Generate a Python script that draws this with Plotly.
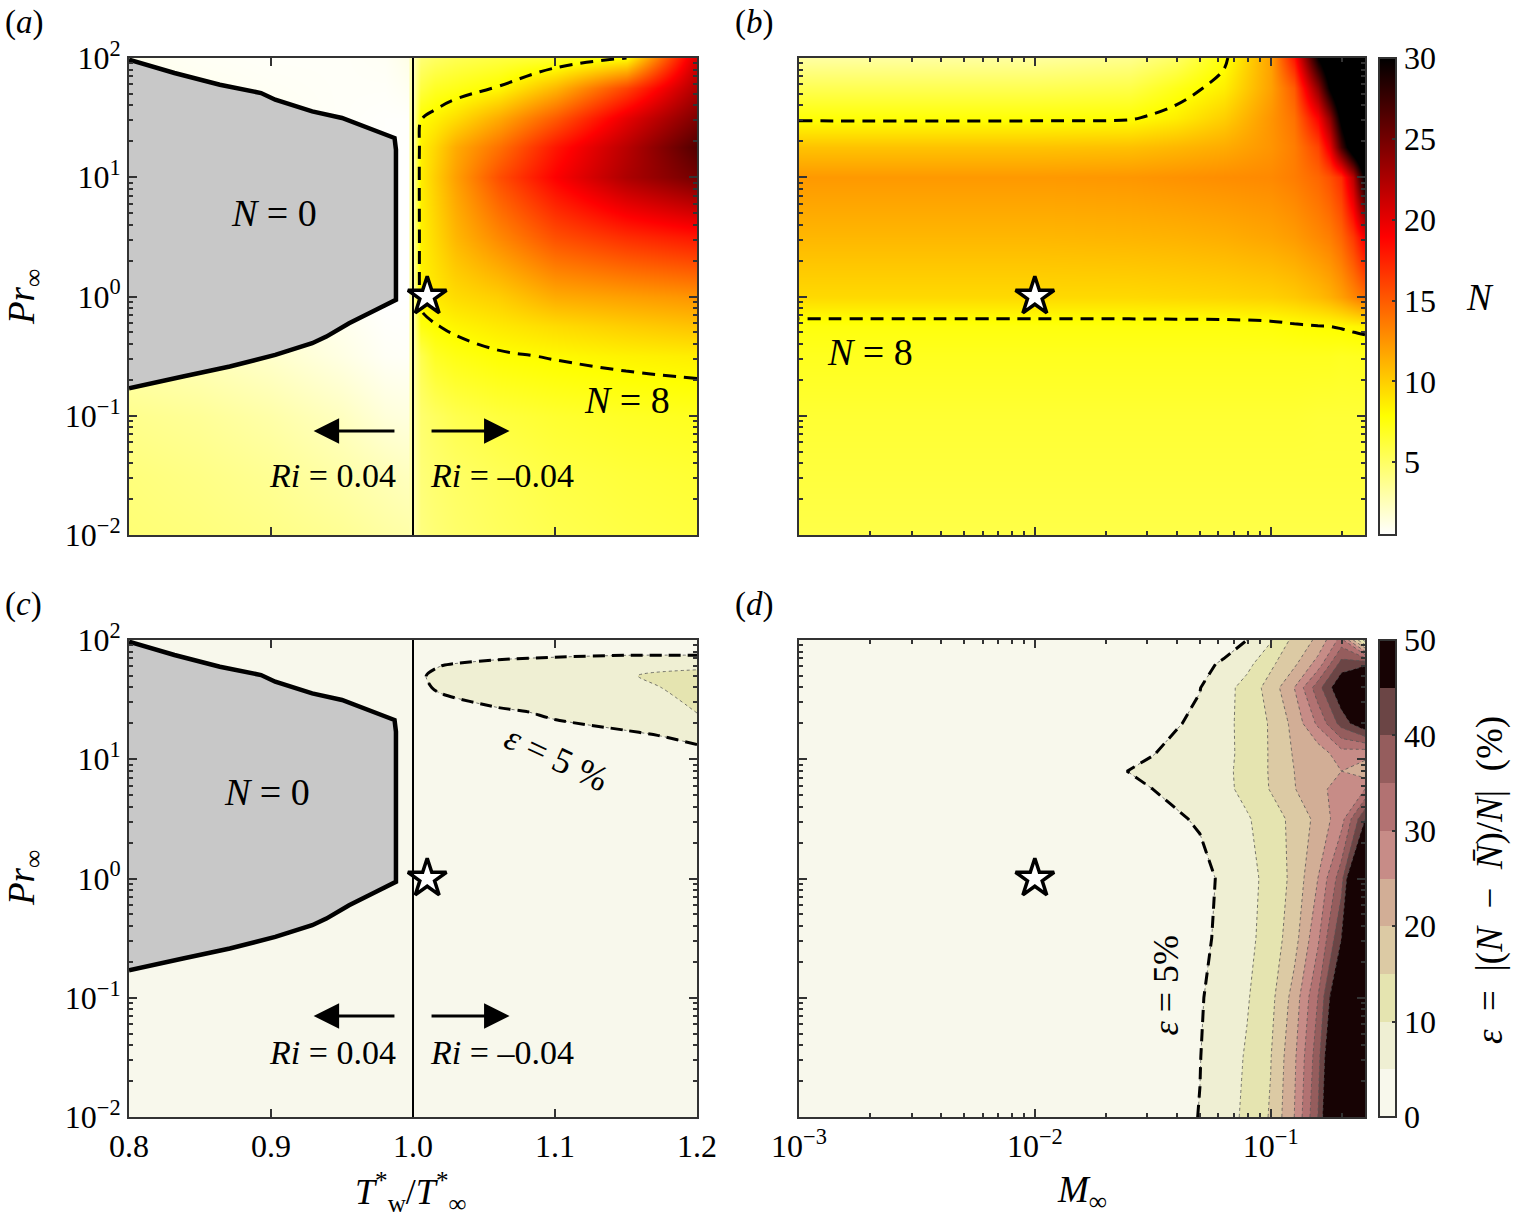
import numpy as np
import plotly.graph_objects as go

# ---------------- data ----------------
# Panel (a): N over (Tw*/Tinf*, Pr) -- left part (Ri > 0) and right part (Ri < 0)
Tw_left = [0.80, 0.85, 0.90, 0.95, 0.98, 1.00]
logPr_a_left = [-2, -1.5, -1, -0.5, 0, 1, 1.5, 2]
N_a_left = [
    [4.5, 4.3, 4.0, 3.6, 3.2, 3.0],
    [4.3, 4.0, 3.6, 3.0, 2.6, 2.3],
    [3.8, 3.5, 3.0, 2.3, 1.6, 1.4],
    [2.8, 2.5, 2.0, 1.3, 0.8, 0.7],
    [2.0, 1.6, 1.2, 0.8, 0.5, 0.5],
    [1.5, 1.2, 1.0, 0.8, 0.6, 0.5],
    [1.3, 1.1, 0.9, 0.7, 0.6, 0.6],
    [1.0, 0.8, 0.7, 0.7, 0.8, 1.3],
]
Tw_right = [1.000, 1.005, 1.015, 1.03, 1.06, 1.10, 1.15, 1.20]
logPr_a_right = [-2, -1.5, -1, -0.5, -0.25, 0, 0.5, 1.0, 1.25, 1.5, 1.75, 2.0]
N_a_right = [
    [2.8, 4.2, 4.5, 4.8, 5.2, 5.6, 5.9, 6.1],
    [2.8, 4.4, 4.7, 5.0, 5.4, 5.9, 6.2, 6.4],
    [2.9, 4.7, 5.1, 5.6, 6.1, 6.5, 6.8, 7.0],
    [3.0, 5.6, 6.8, 7.3, 7.8, 8.1, 8.4, 8.6],
    [3.1, 7.4, 7.9, 8.3, 8.8, 9.4, 10.0, 10.5],
    [3.2, 8.4, 8.8, 9.4, 10.0, 11.5, 12.0, 12.5],
    [3.3, 8.5, 9.5, 11.0, 13.0, 15.5, 17.0, 18.0],
    [3.3, 8.6, 10.0, 12.0, 15.5, 19.0, 22.5, 25.0],
    [3.2, 8.5, 9.6, 11.5, 14.0, 18.0, 22.0, 26.5],
    [3.0, 7.9, 8.4, 9.3, 11.5, 15.0, 20.0, 24.5],
    [2.8, 6.0, 6.8, 7.2, 8.1, 11.0, 16.0, 22.5],
    [2.5, 4.5, 5.0, 5.5, 6.0, 6.5, 7.9, 21.0],
]

# Panel (b): N over (M, Pr)
logM_b = [-3, -2, -1.6, -1.4, -1.2, -1.0, -0.9, -0.8, -0.75, -0.7, -0.65, -0.6]
logPr_b = [-2, -1.5, -1, -0.5, -0.25, 0, 0.5, 1.0, 1.25, 1.5, 1.75, 2.0]
N_b = [
    [5.8, 5.8, 5.8, 5.8, 5.8, 5.8, 5.8, 5.8, 5.8, 5.8, 5.8, 5.8],
    [6.1, 6.1, 6.1, 6.1, 6.1, 6.1, 6.1, 6.1, 6.1, 6.1, 6.1, 6.1],
    [6.4, 6.4, 6.4, 6.4, 6.4, 6.4, 6.4, 6.3, 6.3, 6.3, 6.3, 6.3],
    [7.0, 7.0, 7.0, 7.0, 7.0, 7.0, 7.0, 7.0, 7.0, 6.9, 6.95, 7.0],
    [7.5, 7.5, 7.5, 7.5, 7.5, 7.6, 7.8, 7.95, 8.0, 8.1, 8.25, 8.4],
    [9.5, 9.5, 9.5, 9.6, 9.7, 9.9, 10.2, 10.8, 11.3, 12.0, 13.0, 14.0],
    [11.0, 11.0, 11.1, 11.2, 11.4, 11.8, 12.2, 13.0, 13.5, 14.5, 16.5, 19.5],
    [12.3, 12.3, 12.4, 12.6, 12.8, 13.0, 13.5, 14.5, 15.5, 17.0, 22.0, 31.0],
    [10.5, 10.5, 10.6, 11.0, 11.5, 12.5, 13.5, 16.0, 20.0, 27.0, 33.0, 37.0],
    [7.7, 7.7, 7.8, 8.6, 10.0, 12.5, 14.0, 19.0, 24.0, 31.0, 36.0, 38.0],
    [5.5, 5.5, 5.8, 7.2, 8.6, 12.0, 15.0, 24.0, 30.5, 35.0, 38.0, 40.0],
    [3.2, 3.3, 3.8, 5.0, 7.6, 12.0, 18.0, 30.0, 34.0, 37.0, 39.0, 40.0],
]

# Panel (c): epsilon (%) over (Tw*/Tinf*, Pr)
Tw_c = [0.80, 1.00, 1.005, 1.02, 1.06, 1.10, 1.15, 1.20]
logPr_c = [-2, 0, 1.0, 1.2, 1.4, 1.6, 1.7, 1.8, 1.9, 2.0]
eps_c = [
    [1, 1, 1.0, 1.0, 1.0, 1.0, 1.0, 1.0],
    [1, 1, 1.0, 1.5, 2.0, 2.0, 2.0, 2.0],
    [1, 1, 1.0, 2.0, 3.0, 3.5, 4.0, 4.2],
    [1, 1, 2.0, 3.0, 4.0, 4.4, 4.6, 5.5],
    [1, 1, 2.5, 3.8, 4.7, 5.3, 6.5, 10.3],
    [1, 1, 4.5, 5.4, 6.5, 7.5, 9.5, 10.5],
    [1, 1, 4.6, 6.0, 7.0, 8.0, 9.8, 11.0],
    [1, 1, 4.2, 4.8, 5.8, 6.5, 7.5, 9.0],
    [1, 1, 3.0, 3.5, 3.5, 3.8, 4.0, 3.5],
    [1, 1, 2.0, 2.5, 3.0, 3.0, 3.0, 3.0],
]

# Panel (d): epsilon (%) over (M, Pr)
logM_d = [-3, -2, -1.7, -1.5, -1.3, -1.2, -1.1, -1.0, -0.9, -0.8, -0.7, -0.6]
logPr_d = [-2, -1.5, -1, -0.5, 0, 0.5, 0.75, 0.9, 1.05, 1.3, 1.6, 1.8, 2.0]
eps_d = [
    [0.5, 1.0, 2.0, 3.0, 5.1, 8.0, 11.0, 15.5, 25.0, 40.0, 65.0, 80.0],
    [0.5, 1.0, 2.0, 3.0, 4.9, 7.6, 10.5, 14.8, 24.0, 38.0, 62.0, 80.0],
    [0.5, 1.0, 2.0, 3.0, 4.6, 7.0, 9.6, 13.5, 22.0, 35.0, 55.0, 80.0],
    [0.5, 1.0, 1.8, 2.5, 4.0, 6.0, 8.8, 12.0, 18.0, 29.0, 45.0, 75.0],
    [0.5, 1.0, 1.5, 2.0, 3.5, 5.8, 8.5, 11.5, 16.5, 25.0, 38.0, 70.0],
    [0.5, 1.0, 1.8, 3.5, 5.5, 7.2, 9.5, 12.5, 16.5, 21.5, 28.0, 45.0],
    [0.6, 1.2, 3.5, 5.0, 7.0, 8.7, 11.5, 15.3, 19.8, 23.0, 28.0, 30.0],
    [0.6, 1.3, 4.5, 5.6, 7.4, 9.0, 11.4, 15.5, 20.0, 22.0, 25.0, 22.0],
    [0.6, 1.3, 3.5, 4.9, 6.5, 8.8, 11.3, 15.5, 20.5, 22.0, 28.0, 27.0],
    [0.5, 1.0, 2.8, 4.0, 5.6, 8.5, 11.8, 15.5, 21.5, 31.0, 42.0, 50.0],
    [0.5, 1.0, 2.5, 3.5, 4.9, 8.0, 12.0, 17.0, 25.0, 38.0, 50.0, 55.0],
    [0.5, 1.0, 2.2, 3.0, 4.2, 5.4, 8.5, 14.0, 19.0, 27.0, 42.0, 44.0],
    [0.5, 1.0, 2.0, 2.5, 3.2, 3.5, 5.0, 9.5, 16.5, 21.0, 32.0, 8.0],
]

# N = 0 region boundary (Tw*/Tinf*, log10 Pr)
nzero_Tw = [0.800, 0.832, 0.864, 0.893, 0.903, 0.929, 0.950, 0.968, 0.987, 0.988,
            0.988, 0.988, 0.974, 0.955, 0.939, 0.929, 0.903, 0.871, 0.838, 0.822, 0.800]
nzero_logPr = [1.986, 1.874, 1.776, 1.706, 1.650, 1.552, 1.497, 1.413, 1.329, 1.231,
               0.196, -0.028, -0.112, -0.224, -0.336, -0.392, -0.490, -0.587, -0.671, -0.713, -0.769]

# reference case (star)
star_Tw = 1.01
star_M = 0.01
star_Pr = 1.0

N_ticks = [5, 10, 15, 20, 25, 30]
eps_ticks = [0, 10, 20, 30, 40, 50]
Tw_ticks = [0.8, 0.9, 1.0, 1.1, 1.2]
Pr_tick_exp = [-2, -1, 0, 1, 2]
M_tick_exp = [-3, -2, -1]

# ---------------- styling ----------------
W, H = 1513, 1228
FONT = "Liberation Serif, Times New Roman, serif"
AX = "#333333"
TS = 32  # tick font size


def px_x(p):
    return p / W


def px_y(p):
    return 1 - p / H


hot_r = [[0, "#ffffff"], [0.25, "#ffff00"], [0.625, "#ff0000"], [1, "#000000"]]
eps_colors = ["#f8f8ec", "#efefd3", "#e5e4b0", "#dccaa4", "#d2ae96",
              "#c78c87", "#b27272", "#955d5d", "#6b4545", "#170304"]
eps_fill_scale = [[k / 9, c] for k, c in enumerate(eps_colors)]
eps_bar_scale = []
for k, c in enumerate(eps_colors):
    eps_bar_scale += [[k / 10, c], [(k + 1) / 10, c]]

fig = go.Figure()

# ---- (a) ----
fig.add_trace(go.Heatmap(x=Tw_left, y=logPr_a_left, z=N_a_left, zsmooth="best",
                         colorscale=hot_r, zmin=0.5, zmax=30, showscale=False,
                         hoverinfo="skip", xaxis="x", yaxis="y"))
fig.add_trace(go.Heatmap(x=Tw_right, y=logPr_a_right, z=N_a_right, zsmooth="best",
                         colorscale=hot_r, zmin=0.5, zmax=30, showscale=False,
                         hoverinfo="skip", xaxis="x", yaxis="y"))
fig.add_trace(go.Contour(x=Tw_right, y=logPr_a_right, z=N_a_right,
                         contours=dict(coloring="none", start=8, end=8, size=1),
                         line=dict(color="black", width=3, dash="13px,8px", smoothing=1.2),
                         showscale=False, hoverinfo="skip", xaxis="x", yaxis="y"))

# ---- (b) ----
fig.add_trace(go.Heatmap(x=logM_b, y=logPr_b, z=N_b, zsmooth="best",
                         colorscale=hot_r, zmin=0.5, zmax=30, hoverinfo="skip",
                         xaxis="x2", yaxis="y2",
                         colorbar=dict(x=px_x(1379), xanchor="left", y=px_y(58), yanchor="top",
                                       len=(535 - 58) / H, lenmode="fraction", thickness=17,
                                       xpad=0, ypad=0, outlinewidth=2, outlinecolor=AX,
                                       tickvals=N_ticks, ticks="inside", ticklen=5,
                                       tickcolor=AX, tickwidth=2,
                                       tickfont=dict(family=FONT, size=TS, color="black"))))
fig.add_trace(go.Contour(x=logM_b, y=logPr_b, z=N_b,
                         contours=dict(coloring="none", start=8, end=8, size=1),
                         line=dict(color="black", width=3, dash="13px,8px", smoothing=1.0),
                         showscale=False, hoverinfo="skip", xaxis="x2", yaxis="y2"))

# ---- (c) ----
fig.add_trace(go.Contour(x=Tw_c, y=logPr_c, z=eps_c,
                         contours=dict(coloring="fill", start=5, end=45, size=5),
                         colorscale=eps_fill_scale,
                         line=dict(color="#555555", width=0.8, dash="dot", smoothing=0.8),
                         showscale=False, hoverinfo="skip", xaxis="x3", yaxis="y3"))
fig.add_trace(go.Contour(x=Tw_c, y=logPr_c, z=eps_c,
                         contours=dict(coloring="none", start=5, end=5, size=5),
                         line=dict(color="black", width=3, dash="12px,7px", smoothing=0.8),
                         showscale=False, hoverinfo="skip", xaxis="x3", yaxis="y3"))

# ---- (d) ----
fig.add_trace(go.Contour(x=logM_d, y=logPr_d, z=eps_d,
                         contours=dict(coloring="fill", start=5, end=45, size=5),
                         colorscale=eps_fill_scale,
                         line=dict(color="#555555", width=0.8, dash="dot", smoothing=0),
                         showscale=False, hoverinfo="skip", xaxis="x4", yaxis="y4"))
fig.add_trace(go.Contour(x=logM_d, y=logPr_d, z=eps_d,
                         contours=dict(coloring="none", start=5, end=5, size=5),
                         line=dict(color="black", width=3, dash="12px,7px", smoothing=0),
                         showscale=False, hoverinfo="skip", xaxis="x4", yaxis="y4"))
fig.add_trace(go.Scatter(x=[-10], y=[-10], mode="markers", hoverinfo="skip", showlegend=False,
                         xaxis="x4", yaxis="y4",
                         marker=dict(color=[0], cmin=0, cmax=50, colorscale=eps_bar_scale,
                                     showscale=True, size=1,
                                     colorbar=dict(x=px_x(1379), xanchor="left", y=px_y(640),
                                                   yanchor="top", len=(1117 - 640) / H,
                                                   lenmode="fraction", thickness=17, xpad=0,
                                                   ypad=0, outlinewidth=2, outlinecolor=AX,
                                                   tickvals=eps_ticks, ticks="inside", ticklen=5,
                                                   tickcolor=AX, tickwidth=2,
                                                   tickfont=dict(family=FONT, size=TS,
                                                                 color="black")))))

# ---- N = 0 region in (a) and (c), stars ----
star_marker = dict(symbol="star", size=29, color="white", line=dict(color="black", width=3.5))
for xa, ya in (("x", "y"), ("x3", "y3")):
    fig.add_trace(go.Scatter(x=nzero_Tw, y=nzero_logPr, mode="lines", fill="toself",
                             fillcolor="#c8c8c8", line=dict(width=0), hoverinfo="skip",
                             showlegend=False, xaxis=xa, yaxis=ya))
    fig.add_trace(go.Scatter(x=nzero_Tw, y=nzero_logPr, mode="lines",
                             line=dict(color="black", width=4.5), hoverinfo="skip",
                             showlegend=False, xaxis=xa, yaxis=ya))
    fig.add_trace(go.Scatter(x=[star_Tw], y=[np.log10(star_Pr)], mode="markers",
                             marker=star_marker, hoverinfo="skip", showlegend=False,
                             xaxis=xa, yaxis=ya))
for xa, ya in (("x2", "y2"), ("x4", "y4")):
    fig.add_trace(go.Scatter(x=[np.log10(star_M)], y=[np.log10(star_Pr)], mode="markers",
                             marker=star_marker, hoverinfo="skip", showlegend=False,
                             xaxis=xa, yaxis=ya))

# ---------------- axes ----------------
minor_log = [float(np.log10(k * 10.0 ** d)) for d in range(-3, 2) for k in range(2, 10)]
dom_x_left = [px_x(129), px_x(697)]
dom_x_right = [px_x(799), px_x(1365)]
dom_y_top = [px_y(535), px_y(58)]
dom_y_bot = [px_y(1117), px_y(640)]
pr_text = ["10<sup>\u2212%d</sup>" % -e if e < 0 else "10<sup>%d</sup>" % e for e in Pr_tick_exp]
m_text = ["10<sup>\u2212%d</sup>" % -e for e in M_tick_exp]

common = dict(showline=True, linewidth=2, linecolor=AX, mirror="allticks", ticks="inside",
              ticklen=8, tickwidth=2, tickcolor=AX, showgrid=False, zeroline=False,
              automargin=False, tickfont=dict(family=FONT, size=TS, color="black"))


def log_minor():
    return dict(tickmode="array", tickvals=minor_log, ticks="inside", ticklen=4,
                tickwidth=1.5, tickcolor=AX, showgrid=False)


fig.update_layout(
    width=W, height=H, margin=dict(l=0, r=0, t=0, b=0, pad=0), autosize=False,
    paper_bgcolor="white", plot_bgcolor="white", showlegend=False,
    font=dict(family=FONT, size=30, color="black"),
    xaxis=dict(domain=dom_x_left, anchor="y", range=[0.8, 1.2], tickvals=Tw_ticks,
               showticklabels=False, **common),
    yaxis=dict(domain=dom_y_top, anchor="x", range=[-2, 2], tickvals=Pr_tick_exp,
               ticktext=pr_text, minor=log_minor(), **common),
    xaxis2=dict(domain=dom_x_right, anchor="y2", range=[-3, -0.6], tickvals=M_tick_exp,
                showticklabels=False, minor=log_minor(), **common),
    yaxis2=dict(domain=dom_y_top, anchor="x2", range=[-2, 2], tickvals=Pr_tick_exp,
                showticklabels=False, minor=log_minor(), **common),
    xaxis3=dict(domain=dom_x_left, anchor="y3", range=[0.8, 1.2], tickvals=Tw_ticks,
                ticktext=["%.1f" % t for t in Tw_ticks], **common),
    yaxis3=dict(domain=dom_y_bot, anchor="x3", range=[-2, 2], tickvals=Pr_tick_exp,
                ticktext=pr_text, minor=log_minor(), **common),
    xaxis4=dict(domain=dom_x_right, anchor="y4", range=[-3, -0.6], tickvals=M_tick_exp,
                ticktext=m_text, minor=log_minor(), **common),
    yaxis4=dict(domain=dom_y_bot, anchor="x4", range=[-2, 2], tickvals=Pr_tick_exp,
                showticklabels=False, minor=log_minor(), **common),
)

# vertical Ri = 0 line in (a) and (c)
for xr, yr in (("x", "y"), ("x3", "y3")):
    fig.add_shape(type="line", xref=xr, yref=yr + " domain", x0=1.0, x1=1.0, y0=0, y1=1,
                  line=dict(color="black", width=2))

ann = []


def txt(text, x, y, xref="paper", yref="paper", size=32, angle=0, xanchor="center",
        yanchor="middle"):
    ann.append(dict(text=text, x=x, y=y, xref=xref, yref=yref, showarrow=False,
                    textangle=angle, xanchor=xanchor, yanchor=yanchor,
                    font=dict(family=FONT, size=size, color="black")))


NB = "\u00a0"
# panel labels
txt("(<i>a</i>)", px_x(3), px_y(22), xanchor="left", size=33)
txt("(<i>b</i>)", px_x(733), px_y(22), xanchor="left", size=33)
txt("(<i>c</i>)", px_x(3), px_y(604), xanchor="left", size=33)
txt("(<i>d</i>)", px_x(733), px_y(604), xanchor="left", size=33)

# axis titles
txt("<i>Pr</i><sub>\u221e</sub>", px_x(24), px_y(297), angle=-90, size=37)
txt("<i>Pr</i><sub>\u221e</sub>", px_x(24), px_y(878), angle=-90, size=37)
txt("<i>T</i><sup>*</sup><sub>w</sub>/<i>T</i><sup>*</sup><sub>\u221e</sub>",
    px_x(410), px_y(1192), size=36)
txt("<i>M</i><sub>\u221e</sub>", px_x(1082), px_y(1192), size=37)
txt("<i>N</i>", px_x(1480), px_y(297), size=37)
txt("<i>\u03b5</i>" + NB + " = " + NB + "|(<i>N</i>" + NB + " \u2212 " + NB
    + "<i>N\u0304</i>)/<i>N</i>|" + NB + " (%)", px_x(1490), px_y(880), angle=-90, size=37)

# in-plot labels
txt("<i>N</i> = 0", 0.902, 0.70, "x", "y", size=38)
txt("<i>N</i> = 0", 0.897, 0.725, "x3", "y3", size=38)
txt("<i>N</i> = 8", 1.151, -0.868, "x", "y", size=38)
txt("<i>N</i> = 8", -2.70, -0.465, "x2", "y2", size=38)
for xr, yr, yv in (("x", "y", -1.497), ("x3", "y3", -1.463)):
    txt("<i>Ri</i> = 0.04", 0.943, yv, xr, yr, size=34)
    txt("<i>Ri</i> = \u20130.04", 1.063, yv, xr, yr, size=34)
txt("<i>\u03b5</i> = 5 %", 1.101, 1.01, "x3", "y3", size=36, angle=25)
txt("<i>\u03b5</i> = 5%", -1.446, -0.893, "x4", "y4", size=36, angle=-90)

# arrows
for xr, yr, yv in (("x", "y", -1.128), ("x3", "y3", -1.153)):
    for head, tail in ((0.930, 0.988), (1.068, 1.012)):
        ann.append(dict(x=head, y=yv, ax=tail, ay=yv, xref=xr, yref=yr, axref=xr, ayref=yr,
                        text="", showarrow=True, arrowhead=2, arrowsize=1.7, arrowwidth=3,
                        arrowcolor="black", standoff=0, startstandoff=0))

fig.update_layout(annotations=ann)
fig.write_html("out.html")
